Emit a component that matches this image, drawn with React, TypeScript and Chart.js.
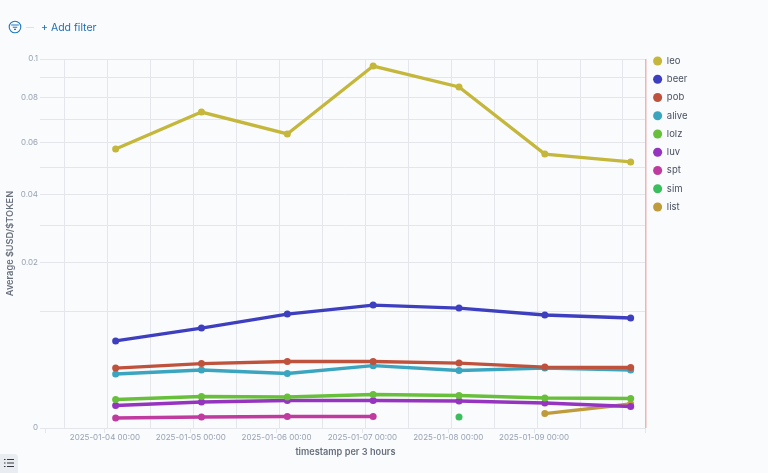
import React, { useEffect, useRef } from "react";
import { Chart, LinearScale, LineController, LineElement, PointElement, Legend } from "chart.js";

const timestamps = ["2025-01-04T03:00Z","2025-01-05T03:00Z","2025-01-06T03:00Z","2025-01-07T03:00Z","2025-01-08T03:00Z","2025-01-09T03:00Z","2025-01-10T03:00Z"];
const seriesNames = ["leo","beer","pob","alive","lolz","luv","spt","sim","list"];
const seriesColors = ["#C4B73B","#3D3FBF","#BF523D","#3BA5BF","#68BF3B","#9535BF","#BF3BA0","#3BBF5E","#BF9B3B"];
const leo = [0.0572,0.0733,0.0635,0.0962,0.0854,0.0551,0.052];
const beer = [0.00556,0.00734,0.00954,0.0111,0.01057,0.00938,0.00889];
const pob = [0.00264,0.00305,0.00325,0.00325,0.0031,0.00273,0.00269];
const alive = [0.00214,0.00247,0.00218,0.00285,0.00243,0.00264,0.00247];
const lolz = [0.000596,0.000729,0.000706,0.000824,0.000775,0.00066,0.00064];
const luv = [0.000372,0.000496,0.000555,0.000555,0.000535,0.000459,0.00034];
const spt = [0.0000734,0.000089,0.000097,0.000097,null,null,null];
const sim = [null,null,null,null,0.000089,null,null];
const list = [null,null,null,null,null,0.000154,0.000423];
const seriesValues = [leo,beer,pob,alive,lolz,luv,spt,sim,list];
const yTickValues = [0,0.01,0.02,0.03,0.04,0.05,0.06,0.07,0.08,0.09,0.1];
const yTickLabels = ["0","","0.02","","0.04","","0.06","","0.08","","0.1"];
const xTickDates = ["2025-01-04T00:00Z","2025-01-05T00:00Z","2025-01-06T00:00Z","2025-01-07T00:00Z","2025-01-08T00:00Z","2025-01-09T00:00Z"];
const xTickLabels = ["2025-01-04 00:00","2025-01-05 00:00","2025-01-06 00:00","2025-01-07 00:00","2025-01-08 00:00","2025-01-09 00:00"];
const xDomain = ["2025-01-03T07:15Z","2025-01-10T07:15Z"];
const gridStart = "2025-01-03T12:50Z";
const gridCount = 14;

const ms = (s: string) => new Date(s).getTime();
const HOUR = 3600000;

class SqrtScale extends LinearScale {
  static id = "sqrt";
  static defaults = (LinearScale as any).defaults;
  getPixelForValue(v: number) {
    const s = this as any;
    return s.getPixelForDecimal((Math.sqrt(Math.max(v, 0)) - Math.sqrt(s.min)) / (Math.sqrt(s.max) - Math.sqrt(s.min)));
  }
  getValueForPixel(p: number) {
    const s = this as any;
    const d = s.getDecimalForPixel(p);
    return Math.pow(Math.sqrt(s.min) + d * (Math.sqrt(s.max) - Math.sqrt(s.min)), 2);
  }
}

Chart.register(LinearScale, LineController, LineElement, PointElement, Legend, SqrtScale as any);

const FONT = "Inter";
const TICK = "#98A2B3";
const GRID = "#E4E6EC";

export default function App() {
  const ref = useRef<HTMLCanvasElement>(null);
  useEffect(() => {
    const min = ms(xDomain[0]);
    const max = ms(xDomain[1]);
    const chart = new Chart(ref.current!, {
      type: "line",
      data: {
        datasets: seriesNames.map((name, i) => ({
          label: name,
          data: seriesValues[i].map((v, j) => ({ x: ms(timestamps[j]), y: v })),
          borderColor: seriesColors[i],
          backgroundColor: seriesColors[i],
          borderWidth: 3.3,
          pointRadius: 3.5,
          pointBackgroundColor: seriesColors[i],
          pointBorderWidth: 0,
          tension: 0,
          spanGaps: false,
        })),
      } as any,
      options: {
        responsive: false,
        animation: false,
        layout: { padding: { left: 0, right: 69, top: 59, bottom: 15 } },
        plugins: {
          legend: {
            position: "right",
            align: "start",
            labels: {
              usePointStyle: true,
              pointStyle: "circle",
              boxWidth: 9,
              boxHeight: 6.4,
              padding: 8.75,
              color: "#4A5160",
              font: { family: FONT, size: 9.5 },
            },
          },
          tooltip: { enabled: false },
        },
        scales: {
          y: {
            type: "sqrt",
            min: 0,
            max: 0.1,
            afterFit: (s: any) => { s.width = 45; },
            afterBuildTicks: (s: any) => { s.ticks = yTickValues.map((value) => ({ value })); },
            ticks: {
              autoSkip: false,
              color: TICK,
              font: { family: FONT, size: 8 },
              padding: 2,
              callback: (v: any) => yTickLabels[yTickValues.indexOf(v)] ?? "",
            },
            grid: { color: GRID, lineWidth: 1, tickLength: 5, tickColor: GRID },
            border: { display: false },
            title: {
              display: true,
              text: "Average $USD/$TOKEN",
              color: "#69707D",
              font: { family: FONT, size: 9.2, weight: 600 },
              padding: { top: 5, bottom: 0 },
            },
          },
          x: {
            type: "linear",
            min,
            max,
            afterFit: (s: any) => { s.height = 30; },
            afterBuildTicks: (s: any) => {
              s.ticks = [min, ...xTickDates.map(ms), max].map((value) => ({ value }));
            },
            ticks: {
              autoSkip: false,
              maxRotation: 0,
              color: TICK,
              font: { family: FONT, size: 8 },
              padding: 0,
              callback: (v: any) => xTickLabels[xTickDates.map(ms).indexOf(v)] ?? "",
            },
            grid: { drawOnChartArea: false, tickLength: 5, tickColor: GRID, color: GRID },
            border: { color: GRID, width: 1 },
            title: {
              display: true,
              text: "timestamp per 3 hours",
              color: "#69707D",
              font: { family: FONT, size: 9.2, weight: 600 },
              padding: 0,
            },
          },
          xGrid: {
            type: "linear",
            position: "top",
            min,
            max,
            afterFit: (s: any) => { s.height = 0; },
            afterBuildTicks: (s: any) => {
              const list = [];
              for (let k = 0; k < gridCount; k++) list.push({ value: ms(gridStart) + k * 12 * HOUR });
              list.push({ value: max });
              s.ticks = list;
            },
            ticks: { display: false },
            grid: {
              drawTicks: false,
              lineWidth: (c: any) => (c.tick && c.tick.value === max ? 1.5 : 1),
              color: (c: any) => (c.tick && c.tick.value === max ? "#EDB4B0" : GRID),
            },
            border: { display: false },
          },
        } as any,
      },
      plugins: [{
        id: "legendPlace",
        afterLayout(c: any) {
          c.legend.left = c.chartArea.right - 1.5;
          c.legend.top = 47.5;
        },
      }],
    } as any);
    return () => chart.destroy();
  }, []);
  return (
    <div style={{ position: "absolute", left: 0, top: 0, width: 768, height: 473, background: "#FAFBFD", overflow: "hidden", fontFamily: FONT }}>
      <canvas ref={ref} width={768} height={473} style={{ position: "absolute", left: 0, top: 0, display: "block" }} />
      <svg width="14" height="14" viewBox="0 0 14 14" style={{ position: "absolute", left: 8, top: 20 }}>
        <circle cx="7" cy="7" r="5.8" fill="none" stroke="#1F78C1" strokeWidth="1.1" />
        <path d="M3.2 5H10.8M4.8 7.2H9.2M6 9.4H8" stroke="#1F78C1" strokeWidth="1.1" />
      </svg>
      <div style={{ position: "absolute", left: 26, top: 26.5, width: 8, height: 1, background: "#DDE1E8" }} />
      <div style={{ position: "absolute", left: 41, top: 20, fontSize: 10.5, lineHeight: "15px", color: "#1F6FB5" }}>+ Add filter</div>
      <div style={{ position: "absolute", left: 0, top: 454, width: 18, height: 19, background: "#E9ECF1", borderRadius: "0 4px 0 0" }}>
        <svg width="10" height="10" viewBox="0 0 10 10" style={{ position: "absolute", left: 4, top: 4 }}>
          <path d="M0 1.5H1.5M3 1.5H10M0 5H1.5M3 5H10M0 8.5H1.5M3 8.5H10" stroke="#343741" strokeWidth="1" />
        </svg>
      </div>
    </div>
  );
}
